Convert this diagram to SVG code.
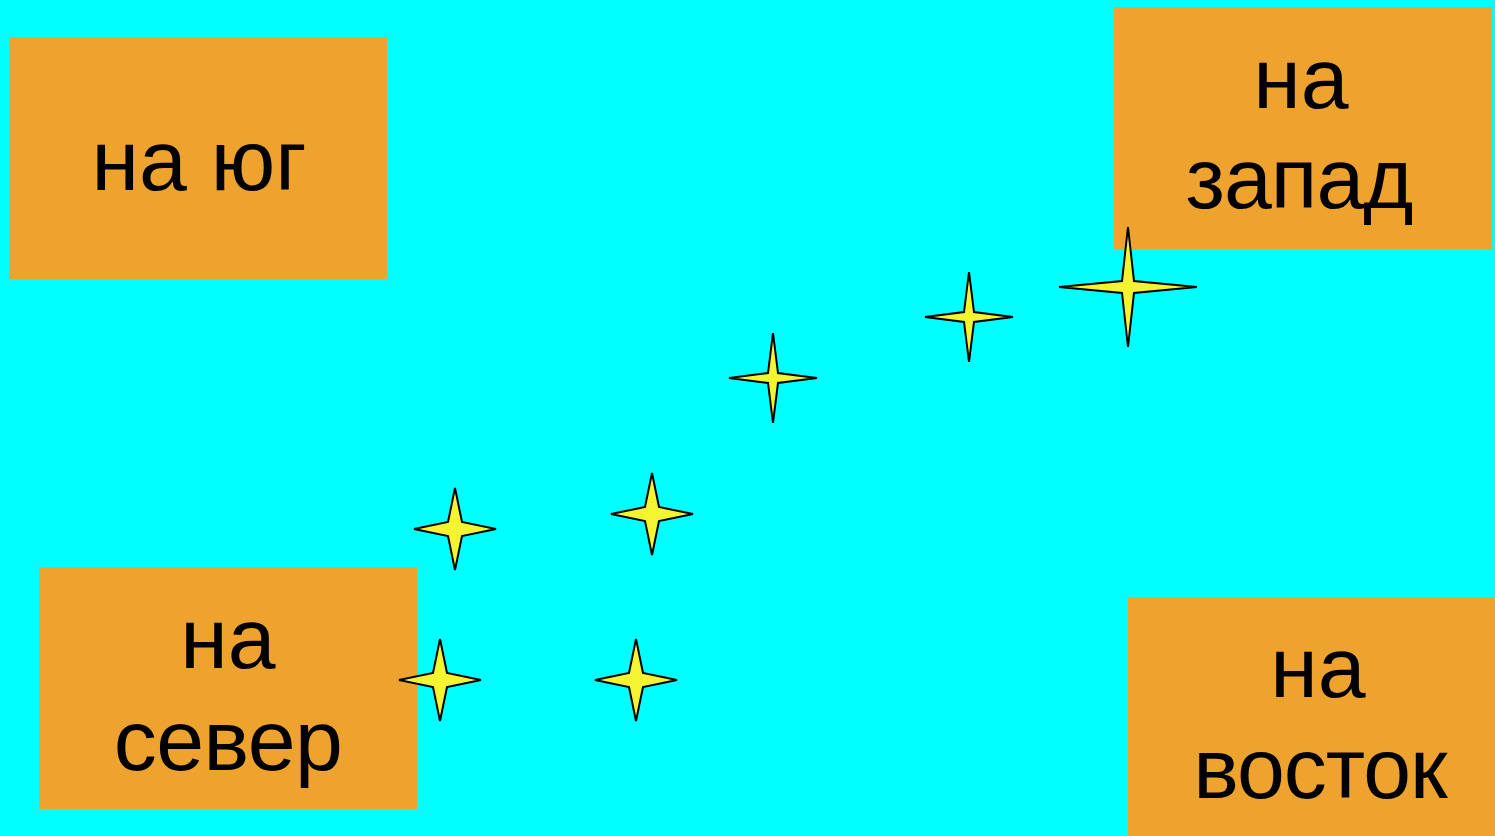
<svg xmlns="http://www.w3.org/2000/svg" xmlns:xlink="http://www.w3.org/1999/xlink" width="1495" height="836" viewBox="0 0 1495 836">
<style>
.box{fill:#efa32f;}
.lbl{font-family:"Liberation Sans",Arial,sans-serif;font-size:86px;fill:#000;text-anchor:middle;}
.star{fill:#f4f431;stroke:#000;stroke-width:2;stroke-linejoin:miter;}
</style>
<defs>
<path id="starBig" d="M0,-60 L6,-6 L69,0 L6,6 L0,60 L-6,6 L-69,0 L-6,-6 Z"/>
<path id="starMed" d="M0,-45 L5,-5 L44,0 L5,5 L0,45 L-5,5 L-44,0 L-5,-5 Z"/>
<path id="starSmall" d="M0,-41 L7,-7 L41,0 L7,7 L0,41 L-7,7 L-41,0 L-7,-7 Z"/>
</defs>
<rect x="0" y="0" width="1495" height="836" fill="#00ffff"/>
<g id="box-south">
<rect class="box" x="9" y="37" width="378" height="242"/>
<text class="lbl" x="199" y="190">на юг</text>
</g>
<g id="box-west">
<rect class="box" x="1114" y="7" width="378" height="242"/>
<text class="lbl" x="1301" y="108">на</text>
<text class="lbl" x="1299" y="208" letter-spacing="-1">запад</text>
</g>
<g id="box-north">
<rect class="box" x="39" y="567" width="378" height="242"/>
<text class="lbl" x="228" y="668">на</text>
<text class="lbl" x="228" y="770" letter-spacing="-0.5">север</text>
</g>
<g id="box-east">
<rect class="box" x="1128" y="597" width="378" height="242"/>
<text class="lbl" x="1318" y="697">на</text>
<text class="lbl" x="1320" y="798" letter-spacing="-1">восток</text>
</g>
<g id="stars">
<use id="star1" class="star" xlink:href="#starBig" href="#starBig" x="1128" y="287"/>
<use id="star2" class="star" xlink:href="#starMed" href="#starMed" x="969" y="317"/>
<use id="star3" class="star" xlink:href="#starMed" href="#starMed" x="773" y="378"/>
<use id="star4" class="star" xlink:href="#starSmall" href="#starSmall" x="652" y="514"/>
<use id="star5" class="star" xlink:href="#starSmall" href="#starSmall" x="455" y="529"/>
<use id="star6" class="star" xlink:href="#starSmall" href="#starSmall" x="440" y="680"/>
<use id="star7" class="star" xlink:href="#starSmall" href="#starSmall" x="636" y="680"/>
</g>
</svg>
